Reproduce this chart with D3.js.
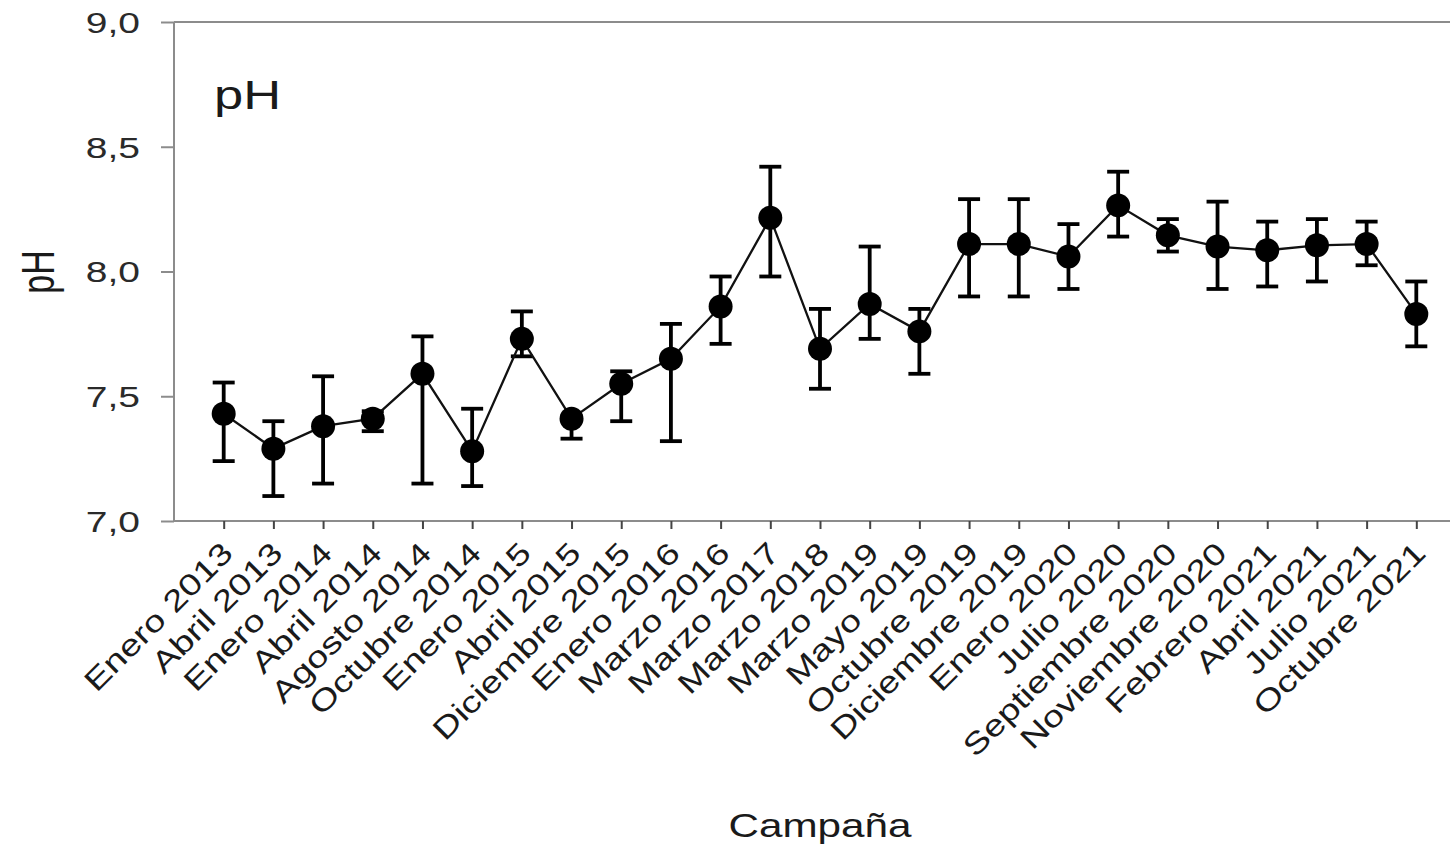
<!DOCTYPE html>
<html>
<head>
<meta charset="utf-8">
<script src="https://cdn.jsdelivr.net/npm/d3@7"></script>
<style>
  html, body { margin: 0; padding: 0; background: #fff; overflow: hidden; }
  svg { display: block; font-family: "Liberation Sans", Arial, sans-serif; }
</style>
</head>
<body>
<svg id="chart" width="1450" height="844"></svg>
<script>
// Sampling campaigns
const campaigns = [
  "Enero 2013", "Abril 2013", "Enero 2014", "Abril 2014", "Agosto 2014",
  "Octubre 2014", "Enero 2015", "Abril 2015", "Diciembre 2015", "Enero 2016",
  "Marzo 2016", "Marzo 2017", "Marzo 2018", "Marzo 2019", "Mayo 2019",
  "Octubre 2019", "Diciembre 2019", "Enero 2020", "Julio 2020", "Septiembre 2020",
  "Noviembre 2020", "Febrero 2021", "Abril 2021", "Julio 2021", "Octubre 2021"
];
// Mean pH per campaign
const phMean = [
  7.43, 7.29, 7.38, 7.41, 7.59, 7.28, 7.73, 7.41, 7.55, 7.65,
  7.86, 8.215, 7.69, 7.87, 7.76, 8.11, 8.11, 8.06, 8.265, 8.145,
  8.10, 8.085, 8.105, 8.11, 7.83
];
// Upper end of the error bar
const phUpper = [
  7.555, 7.40, 7.58, 7.44, 7.74, 7.45, 7.84, 7.42, 7.60, 7.79,
  7.98, 8.42, 7.85, 8.10, 7.85, 8.29, 8.29, 8.19, 8.40, 8.21,
  8.28, 8.20, 8.21, 8.20, 7.96
];
// Lower end of the error bar
const phLower = [
  7.24, 7.10, 7.15, 7.36, 7.15, 7.14, 7.66, 7.33, 7.40, 7.32,
  7.71, 7.98, 7.53, 7.73, 7.59, 7.90, 7.90, 7.93, 8.14, 8.08,
  7.93, 7.94, 7.96, 8.025, 7.70
];
const yTicks = [7.0, 7.5, 8.0, 8.5, 9.0];

const rows = campaigns.map((c, i) => ({ c, m: phMean[i], hi: phUpper[i], lo: phLower[i] }));

const svg = d3.select("#chart");
const plotLeft = 174, plotRight = 1466, plotTop = 22, plotBottom = 521;
const axisColor = "#8c8c8c";
const textColor = "#1a1a1a";

const x = d3.scalePoint().domain(campaigns).range([plotLeft, plotRight]).padding(1);
const y = d3.scaleLinear().domain([7, 9]).range([plotBottom, plotTop]);

const es = d3.formatLocale({ decimal: ",", thousands: ".", grouping: [3], currency: ["", "€"] });
const fmt = es.format(".1f");

// Frame: left spine and top line
svg.append("line").attr("x1", plotLeft).attr("x2", plotLeft).attr("y1", plotTop).attr("y2", plotBottom)
  .attr("stroke", axisColor).attr("stroke-width", 2);
svg.append("line").attr("x1", plotLeft).attr("x2", plotRight).attr("y1", plotTop).attr("y2", plotTop)
  .attr("stroke", axisColor).attr("stroke-width", 2);

// Y axis
const yAxis = svg.append("g").attr("transform", `translate(${plotLeft},0)`)
  .call(d3.axisLeft(y).tickValues(yTicks).tickSize(13).tickFormat(""));
yAxis.select(".domain").remove();
yAxis.selectAll(".tick line").attr("stroke", axisColor).attr("stroke-width", 2);

svg.append("g").selectAll("text").data(yTicks).join("text")
  .attr("transform", d => `translate(140,${y(d)}) scale(1.3,1)`)
  .attr("text-anchor", "end").attr("dy", "0.36em")
  .attr("font-size", 30).attr("fill", "#2a2a2a")
  .text(d => fmt(d));

// X axis
const xAxis = svg.append("g").attr("transform", `translate(0,${plotBottom})`)
  .call(d3.axisBottom(x).tickSize(8).tickFormat(""));
xAxis.select(".domain").attr("stroke", axisColor).attr("stroke-width", 2)
  .attr("d", `M${plotLeft},0H${plotRight}`);
xAxis.selectAll(".tick line").attr("stroke", "#444").attr("stroke-width", 2);

svg.append("g").selectAll("text").data(campaigns).join("text")
  .attr("transform", d => `translate(${x(d) + 11},${plotBottom + 34}) rotate(-45) scale(1.26,1)`)
  .attr("text-anchor", "end")
  .attr("font-size", 30).attr("fill", textColor)
  .text(d => d);

// Axis titles
svg.append("text")
  .attr("transform", `translate(820,837) scale(1.28,1)`)
  .attr("text-anchor", "middle").attr("font-size", 33).attr("fill", textColor)
  .text("Campaña");

svg.append("text")
  .attr("transform", `translate(54,272) scale(1.35,1) rotate(-90)`)
  .attr("text-anchor", "middle").attr("font-size", 34).attr("fill", textColor)
  .text("pH");

// Panel label
svg.append("text")
  .attr("transform", `translate(214,109) scale(1.28,1)`)
  .attr("font-size", 41).attr("fill", textColor)
  .text("pH");

// Error bars
const eb = svg.append("g").attr("stroke", "#000").attr("stroke-width", 3.8);
eb.selectAll("line.v").data(rows).join("line").attr("class", "v")
  .attr("x1", d => x(d.c)).attr("x2", d => x(d.c))
  .attr("y1", d => y(d.hi)).attr("y2", d => y(d.lo));
eb.selectAll("line.capHi").data(rows).join("line").attr("class", "capHi")
  .attr("x1", d => x(d.c) - 11).attr("x2", d => x(d.c) + 11)
  .attr("y1", d => y(d.hi)).attr("y2", d => y(d.hi));
eb.selectAll("line.capLo").data(rows).join("line").attr("class", "capLo")
  .attr("x1", d => x(d.c) - 11).attr("x2", d => x(d.c) + 11)
  .attr("y1", d => y(d.lo)).attr("y2", d => y(d.lo));

// Connecting line
svg.append("path").datum(rows)
  .attr("fill", "none").attr("stroke", "#111").attr("stroke-width", 2.3)
  .attr("d", d3.line().x(d => x(d.c)).y(d => y(d.m)));

// Markers
svg.append("g").selectAll("circle").data(rows).join("circle")
  .attr("cx", d => x(d.c)).attr("cy", d => y(d.m)).attr("r", 12)
  .attr("fill", "#000");
</script>
</body>
</html>
